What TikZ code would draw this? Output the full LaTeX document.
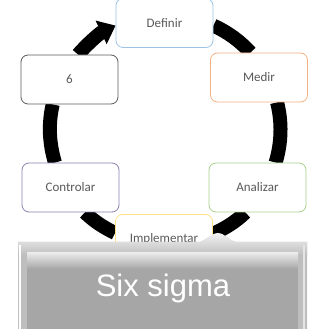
\documentclass[tikz,border=0pt]{standalone}
\usepackage{fontspec}
\setmainfont{Carlito}
\newfontfamily\bannerfont{Liberation Sans}
\usetikzlibrary{arrows.meta,backgrounds}

\definecolor{defblue}{HTML}{9DC3E6}
\definecolor{medorange}{HTML}{F4B183}
\definecolor{anagreen}{HTML}{A9D18E}
\definecolor{impyellow}{HTML}{FFE38A}
\definecolor{ctlpurple}{HTML}{8E80B0}
\definecolor{sixgray}{HTML}{5A5A5A}
\definecolor{stagetext}{HTML}{595959}
\definecolor{rimgray}{HTML}{BEBEBE}
\definecolor{facegray}{HTML}{A6A6A6}

\tikzset{
  stage/.style={draw, rounded corners=7pt, fill=white, line width=0.8pt,
    minimum width=97pt, minimum height=49pt, text=stagetext,
    font=\fontsize{13}{15}\selectfont},
  ring/.style={line width=14pt, black, looseness=0.88},
  bannertext/.style={text=white, font=\bannerfont\fontsize{31}{36}\selectfont}
}

\begin{document}
\begin{tikzpicture}[x=1pt,y=1pt]
  \useasboundingbox (0,0) rectangle (321,329);
  \clip (0,0) rectangle (321,329); % Definir box runs off the top

  \coordinate (Centre) at (165,199);% centre of the cycle

  % the six stages
  \node[stage, draw=defblue]   (def) at (164.5,306) {Definir};
  \node[stage, draw=medorange] (med) at (259,251.5) {Medir};
  \node[stage, draw=anagreen]  (ana) at (257.5,141.5) {Analizar};
  \node[stage, draw=impyellow] (imp) at (164,90) {Implementar};
  \node[stage, draw=ctlpurple] (ctl) at (70.5,141.5) {Controlar};
  \node[stage, draw=sixgray]   (six) at (69.5,249.5) {6};

  % the black ring, behind the boxes
  \begin{scope}[on background layer]
    \draw[ring] (def.-3)    to[out=-24.7,in=132]  (med.109);
    \draw[ring] (med.-54.5) to[out=-75.9,in=73.3] (ana.54);
    \draw[ring] (ana.-116)  to[out=-135.5,in=24.4] (imp.6);
    \draw[ring] (imp.173)   to[out=154.5,in=-44.5] (ctl.-60.4);
    \draw[ring] (ctl.122.6) to[out=106.7,in=-103.1] (six.236);
    \draw[ring,-{Triangle[width=25pt,length=16pt]}]
      (six.71.3) to[out=49.3,in=205.2] (def.183.5);
  \end{scope}

  % the grey banner on top
  \fill[rimgray] (18,0) -- (18,87) -- (200,87)
    .. controls (208,90) and (212,96) .. (218,96)
    .. controls (224,96) and (228,89) .. (236,87) -- (307,87) -- (307,0) -- cycle;
  \begin{scope}
    \clip (18,0) -- (18,87) -- (200,87)
      .. controls (208,90) and (212,96) .. (218,96)
      .. controls (224,96) and (228,89) .. (236,87) -- (307,87) -- (307,0) -- cycle;
    \shade[top color=white!92!gray, bottom color=rimgray] (18,74) rectangle (307,97);
  \end{scope}
  \draw[white, line width=1.2pt] (20,0) -- (20,84);
  \draw[white!80!gray, line width=1.2pt] (304,0) -- (304,84);
  \shade[top color=white!75!facegray, bottom color=facegray] (27,60) rectangle (298,76);
  \fill[facegray] (27,0) rectangle (298,60.2);
  \node[bannertext] (banner) at (163,41) {Six sigma};
\end{tikzpicture}
\end{document}
